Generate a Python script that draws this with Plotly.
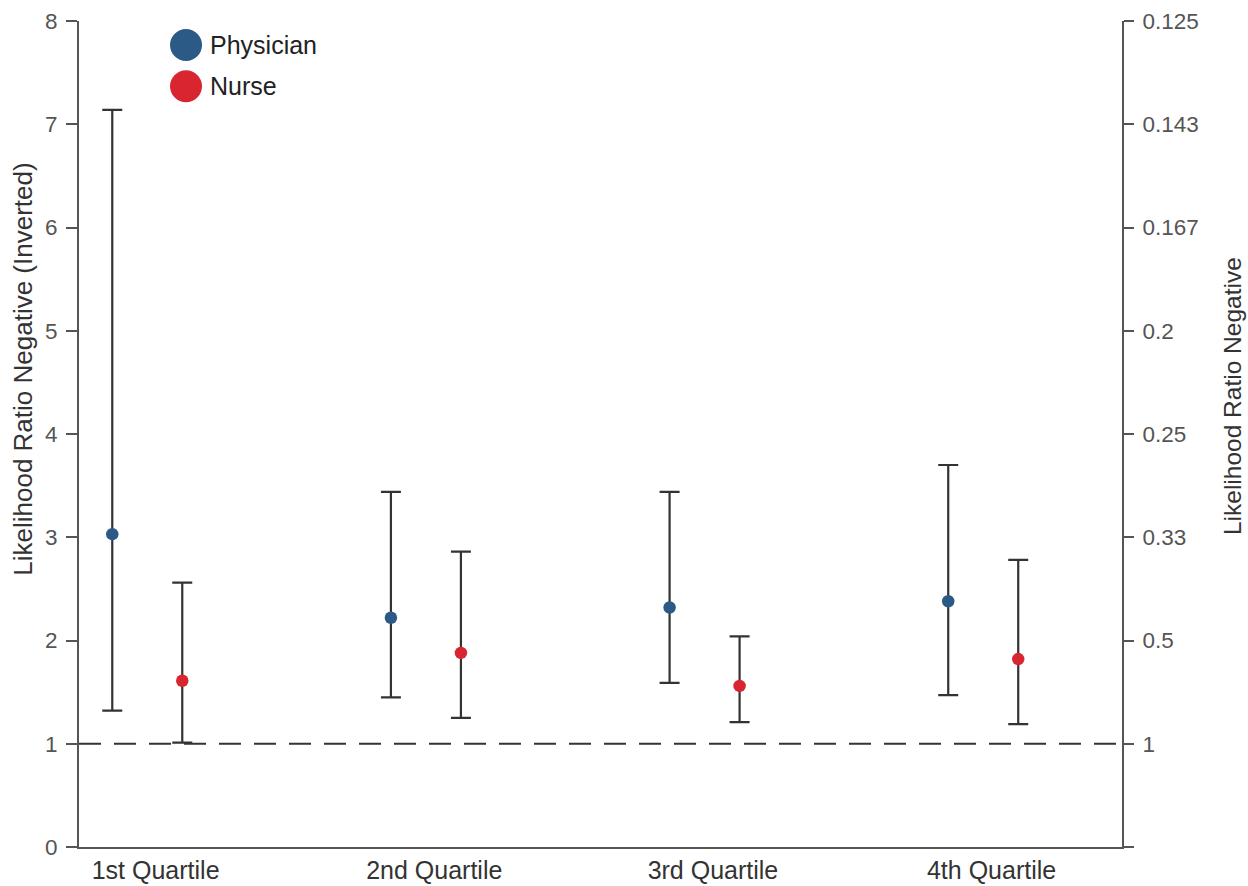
import plotly.graph_objects as go

# ---- data ----
categories = ["1st Quartile", "2nd Quartile", "3rd Quartile", "4th Quartile"]
physician_lr = [3.03, 2.22, 2.32, 2.38]
physician_lo = [1.32, 1.45, 1.59, 1.47]
physician_hi = [7.14, 3.44, 3.44, 3.70]
nurse_lr = [1.61, 1.88, 1.56, 1.82]
nurse_lo = [1.01, 1.25, 1.21, 1.19]
nurse_hi = [2.56, 2.86, 2.04, 2.78]
left_ticks = [0, 1, 2, 3, 4, 5, 6, 7, 8]
right_tick_text = ["", "1", "0.5", "0.33", "0.25", "0.2", "0.167", "0.143", "0.125"]
series_names = ["Physician", "Nurse"]
series_colors = ["#2b5a87", "#d92530"]

FONT = "Liberation Sans, Arial, Helvetica, sans-serif"
ERR_COLOR = "#333333"
AXIS_COLOR = "#555555"

offset = 0.1256
idx = list(range(len(categories)))
x_phys = [i - offset for i in idx]
x_nurse = [i + offset for i in idx]

fig = go.Figure()

def add_series(xs, ys, lo, hi, color, name):
    fig.add_trace(go.Scatter(
        x=xs, y=ys, mode="markers", name=name, showlegend=False,
        marker=dict(color=color, size=12.5, line=dict(width=0)),
        error_y=dict(type="data", symmetric=False,
                     array=[h - v for h, v in zip(hi, ys)],
                     arrayminus=[v - l for v, l in zip(ys, lo)],
                     color=ERR_COLOR, thickness=2.2, width=10),
    ))

add_series(x_phys, physician_lr, physician_lo, physician_hi, series_colors[0], series_names[0])
add_series(x_nurse, nurse_lr, nurse_lo, nurse_hi, series_colors[1], series_names[1])

# invisible trace to activate the right axis
fig.add_trace(go.Scatter(x=x_phys, y=physician_lr, yaxis="y2", mode="markers",
                         marker=dict(opacity=0), showlegend=False, hoverinfo="skip"))

# reference line at LR = 1
fig.add_shape(type="line", xref="paper", yref="y", x0=0, x1=1, y0=1, y1=1,
              line=dict(color="#333333", width=2, dash="22px,13px"), layer="below")

# custom legend (large circles)
legend_y = [0.971, 0.921]
for name, color, ly in zip(series_names, series_colors, legend_y):
    fig.add_shape(type="circle", xref="paper", yref="paper",
                  xsizemode="pixel", ysizemode="pixel",
                  xanchor=0.1026, yanchor=ly, x0=-16, x1=16, y0=-16, y1=16,
                  fillcolor=color, line=dict(width=0))
    fig.add_annotation(text=name, xref="paper", yref="paper", x=0.1235, y=ly,
                       xanchor="left", yanchor="middle", showarrow=False,
                       font=dict(family=FONT, size=25, color="#222222"))

# axis titles
fig.add_annotation(text="Likelihood Ratio Negative (Inverted)", xref="paper", yref="paper",
                   x=-0.0537, y=0.579, textangle=-90, showarrow=False,
                   xanchor="center", yanchor="middle",
                   font=dict(family=FONT, size=26, color="#333333"))
fig.add_annotation(text="Likelihood Ratio Negative", xref="paper", yref="paper",
                   x=1.1055, y=0.546, textangle=-90, showarrow=False,
                   xanchor="center", yanchor="middle",
                   font=dict(family=FONT, size=24.5, color="#333333"))

fig.update_layout(
    width=1248, height=886,
    margin=dict(l=79, r=126, t=21, b=39, pad=0, autoexpand=False),
    paper_bgcolor="white", plot_bgcolor="white",
    font=dict(family=FONT),
    showlegend=False,
    xaxis=dict(range=[-0.245, 3.498], tickvals=[i + 0.03 for i in idx], ticktext=categories,
               showline=True, linecolor=AXIS_COLOR, linewidth=2, ticks="",
               showgrid=False, zeroline=False, fixedrange=True, automargin=False,
               tickfont=dict(family=FONT, size=25, color="#333333")),
    yaxis=dict(range=[0, 8], tickvals=left_ticks, ticktext=[str(v) for v in left_ticks],
               showline=True, linecolor=AXIS_COLOR, linewidth=2, ticks="outside",
               ticklen=11, tickwidth=2, tickcolor=AXIS_COLOR, automargin=False,
               showgrid=False, zeroline=False, ticklabelstandoff=4,
               tickfont=dict(family=FONT, size=22.5, color="#555555")),
    yaxis2=dict(range=[0, 8], overlaying="y", side="right", anchor="x",
                tickvals=left_ticks, ticktext=right_tick_text, automargin=False,
                showline=True, linecolor=AXIS_COLOR, linewidth=2, ticks="outside",
                ticklen=10, tickwidth=2, tickcolor=AXIS_COLOR,
                showgrid=False, zeroline=False, ticklabelstandoff=4,
                tickfont=dict(family=FONT, size=22.5, color="#555555")),
)

fig.write_html(
    "out.html",
    config={"displayModeBar": False},
    post_script="document.body.style.margin='0';document.body.style.overflow='hidden';"
                "document.documentElement.style.overflow='hidden';",
)
